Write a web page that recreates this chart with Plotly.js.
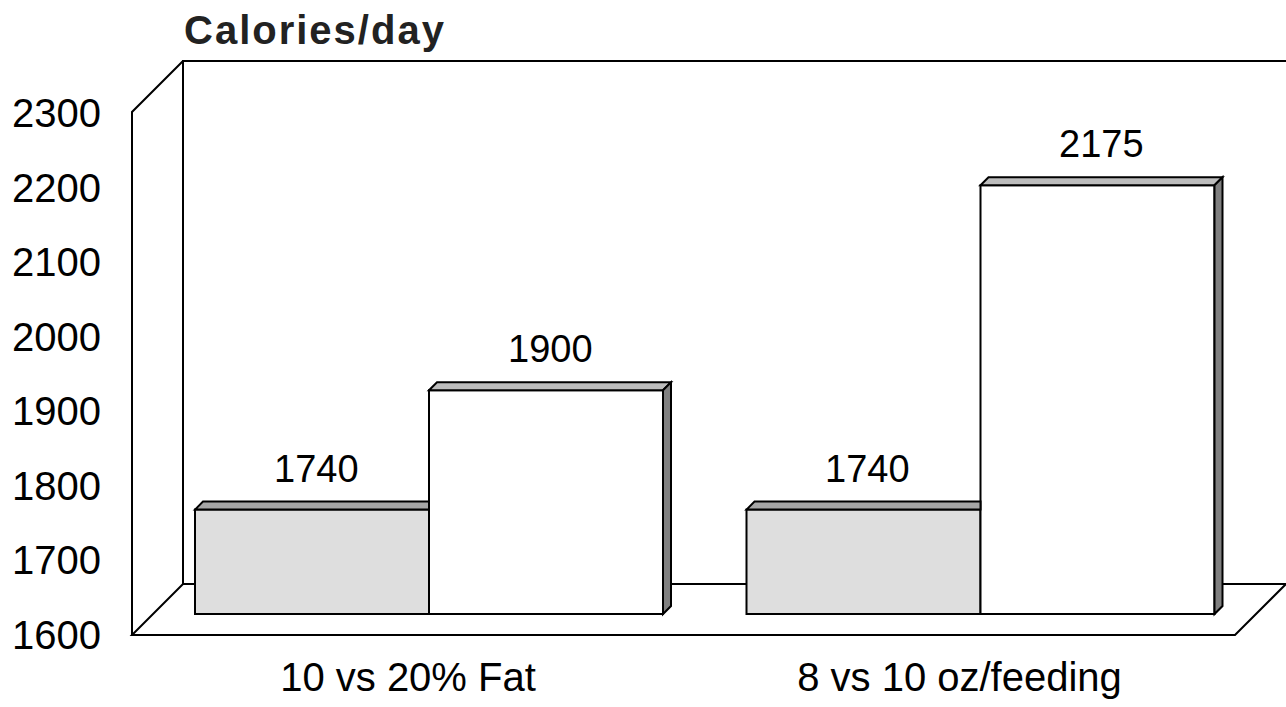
<!DOCTYPE html>
<html><head><meta charset="utf-8">
<script src="https://cdn.plot.ly/plotly-3.0.1.min.js"></script>
<style>html,body{margin:0;padding:0;background:#fff;} .gtitle{letter-spacing:2px;}</style>
</head><body><div id="chart" style="width:1286px;height:707px;"></div>
<script>
// ---- data ----
const categories = ['10 vs 20% Fat', '8 vs 10 oz/feeding'];
const lowerValues = [1740, 1740];
const higherValues = [1900, 2175];
const yTickValues = [1600, 1700, 1800, 1900, 2000, 2100, 2200, 2300];
const chartTitle = 'Calories/day';

// ---- geometry (pixels) ----
const L = 132, R = 1286, T = 61, B = 635;
const PXU = 522 / 700;      // pixels per calorie unit
const CAT = 551.5;          // pixels per category
const WALL = 51;            // depth of back wall
const PLANE = 21;           // depth of bar plane
const BD = 8;               // bar depth
const FRONT_C0 = 408;       // front-plane centre of first category
const BASE = 1600;
const BARGAP = 0.1514;
const FONT = 'Liberation Sans, Arial, sans-serif';

const plotW = R - L, plotH = B - T;
const px = x => (x - L) / plotW;
const py = y => (B - y) / plotH;

const xBarRange = [(L - (FRONT_C0 + PLANE)) / CAT, (R - (FRONT_C0 + PLANE)) / CAT];
const yBarRange = [BASE - PLANE / PXU, BASE + (plotH - PLANE) / PXU];
const xFrontRange = [(L - FRONT_C0) / CAT, (R - FRONT_C0) / CAT];
const yFrontRange = [BASE, BASE + plotH / PXU];

const traces = [
  {type: 'bar', x: categories, y: lowerValues.map(v => v - BASE), base: BASE,
   marker: {color: '#dedede', line: {color: '#000', width: 2}},
   xaxis: 'x', yaxis: 'y', hoverinfo: 'skip', showlegend: false},
  {type: 'bar', x: categories, y: higherValues.map(v => v - BASE), base: BASE,
   marker: {color: '#ffffff', line: {color: '#000', width: 2}},
   xaxis: 'x', yaxis: 'y', hoverinfo: 'skip', showlegend: false},
  {type: 'scatter', x: categories, y: [BASE, BASE], mode: 'markers',
   marker: {opacity: 0}, xaxis: 'x2', yaxis: 'y2', hoverinfo: 'skip', showlegend: false}
];

const lineStyle = {color: '#000', width: 2};
const shapes = [];
// frame (walls + floor)
function pth(pts, close) {
  return 'M ' + pts.map(p => px(p[0]) + ',' + py(p[1])).join(' L ') + (close ? ' Z' : '');
}
shapes.push({type: 'path', xref: 'paper', yref: 'paper', layer: 'below', line: lineStyle,
  path: pth([[L + WALL, B - WALL], [L + WALL, T], [R, T]], false)});
shapes.push({type: 'path', xref: 'paper', yref: 'paper', layer: 'below', line: lineStyle,
  path: pth([[L, B], [L, T + WALL], [L + WALL, T]], false)});
shapes.push({type: 'path', xref: 'paper', yref: 'paper', layer: 'below', line: lineStyle,
  path: pth([[L, B], [R - WALL, B], [R, B - WALL], [L + WALL, B - WALL]], true)});

// 3D faces of bars (data coordinates)
const dx = BD / CAT, dy = BD / PXU, hw = (1 - BARGAP) / 2;
const annotations = [];
categories.forEach((c, i) => {
  const lo = lowerValues[i], hi = higherValues[i];
  // lower bar top face (right part hidden by the taller bar)
  shapes.push({type: 'path', xref: 'x', yref: 'y', layer: 'above', fillcolor: '#a6a6a6', line: lineStyle,
    path: `M ${i - hw},${lo} L ${i - hw + dx},${lo + dy} L ${i},${lo + dy} L ${i},${lo} Z`});
  // higher bar top face
  shapes.push({type: 'path', xref: 'x', yref: 'y', layer: 'above', fillcolor: '#bdbdbd', line: lineStyle,
    path: `M ${i},${hi} L ${i + dx},${hi + dy} L ${i + hw + dx},${hi + dy} L ${i + hw},${hi} Z`});
  // higher bar side face
  shapes.push({type: 'path', xref: 'x', yref: 'y', layer: 'above', fillcolor: '#808080', line: lineStyle,
    path: `M ${i + hw},${hi} L ${i + hw + dx},${hi + dy} L ${i + hw + dx},${BASE + dy} L ${i + hw},${BASE} Z`});
  annotations.push({xref: 'x', yref: 'y', x: i - hw / 2 + 4 / CAT, y: lo, text: String(lo),
    showarrow: false, yanchor: 'middle', yshift: 41, font: {family: FONT, size: 38, color: '#000'}});
  annotations.push({xref: 'x', yref: 'y', x: i + hw / 2 + 4 / CAT, y: hi, text: String(hi),
    showarrow: false, yanchor: 'middle', yshift: 41, font: {family: FONT, size: 38, color: '#000'}});
});

const layout = {
  width: 1286, height: 707,
  margin: {l: L, r: 1286 - R, t: T, b: 707 - B, pad: 0},
  paper_bgcolor: '#fff', plot_bgcolor: 'rgba(0,0,0,0)',
  font: {family: FONT, color: '#000'},
  title: {text: '<b>' + chartTitle + '</b>', xref: 'container', yref: 'container',
          x: 184 / 1286, xanchor: 'left', y: 1 - 30 / 707, yanchor: 'middle',
          font: {family: FONT, size: 40, color: '#222'}},
  barmode: 'group', bargap: BARGAP, bargroupgap: 0,
  showlegend: false,
  xaxis: {type: 'category', range: xBarRange, visible: false, fixedrange: true},
  yaxis: {range: yBarRange, visible: false, fixedrange: true},
  xaxis2: {type: 'category', overlaying: 'x', anchor: 'y', side: 'bottom', range: xFrontRange,
           showgrid: false, zeroline: false, showline: false, ticks: '',
           ticklabelstandoff: 15, tickfont: {family: FONT, size: 40, color: '#000'}},
  yaxis2: {overlaying: 'y', anchor: 'x', side: 'left', range: yFrontRange, tickvals: yTickValues,
           showgrid: false, zeroline: false, showline: false, ticks: '',
           ticklabelstandoff: 30, tickfont: {family: FONT, size: 40, color: '#000'}},
  shapes: shapes,
  annotations: annotations
};

Plotly.newPlot('chart', traces, layout, {displayModeBar: false, staticPlot: true});
</script>
</body></html>
